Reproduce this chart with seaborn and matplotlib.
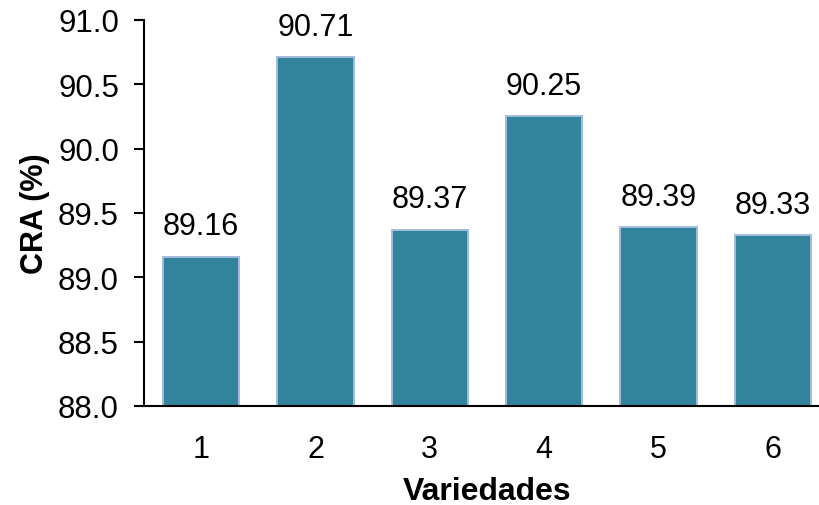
import matplotlib
matplotlib.use("Agg")
import matplotlib.pyplot as plt
import seaborn as sns
import pandas as pd

# Data
variedades = ["1", "2", "3", "4", "5", "6"]
cra = [89.16, 90.71, 89.37, 90.25, 89.39, 89.33]
yticks = [88.0, 88.5, 89.0, 89.5, 90.0, 90.5, 91.0]

sns.set_theme(style="white")
plt.rcParams["font.family"] = ["Liberation Sans", "DejaVu Sans"]

df = pd.DataFrame({"Variedades": variedades, "CRA": cra})

fig = plt.figure(figsize=(8.2, 5.06), dpi=100)
ax = fig.add_axes([0.1756, 0.1957, 0.8366, 0.7628])

sns.barplot(data=df, x="Variedades", y="CRA", color="#31849B",
            saturation=1, width=0.67, edgecolor="#A3BCDD", linewidth=1.4,
            ax=ax)

ax.set_ylim(88.0, 91.0)
ax.set_xlim(-0.5, 5.5)
ax.set_yticks(yticks)
ax.set_yticklabels([f"{t:.1f}" for t in yticks])
ax.bar_label(ax.containers[0], labels=[f"{v:.2f}" for v in cra],
             padding=11, fontsize=22, color="black")

for side in ["top", "right"]:
    ax.spines[side].set_visible(False)
for side in ["left", "bottom"]:
    ax.spines[side].set_color("black")
    ax.spines[side].set_linewidth(1.5)

ax.tick_params(axis="y", which="major", left=True, length=7, width=1.5,
               color="black", labelsize=22.5, pad=11, labelcolor="black")
ax.tick_params(axis="x", bottom=False, labelsize=22, pad=14, labelcolor="black")

ax.set_xlabel("Variedades", fontsize=23, fontweight="bold", labelpad=9,
              color="black")
ax.set_ylabel("CRA (%)", fontsize=22, fontweight="bold", labelpad=6,
              color="black")

fig.savefig("out.png", dpi=100)
